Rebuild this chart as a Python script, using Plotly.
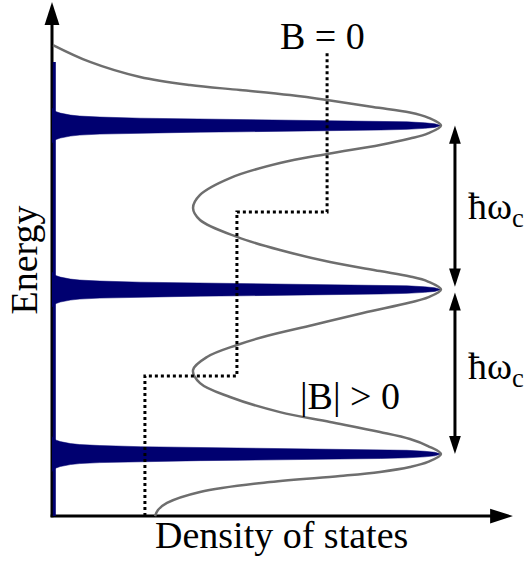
import plotly.graph_objects as go

# ---- data (energy in units of ħω_c, DOS in units of the B = 0 step height) ----
level_E = [0.524, 1.527, 2.527]

# sharp (clean) Landau-level peak: half-width in energy vs DOS value
peak_dos = [0.0, 0.03, 0.09, 0.2, 0.3, 0.52, 0.96, 1.61, 2.04, 2.7, 3.13, 3.57, 3.86, 4.05, 4.16, 4.23]
peak_halfwidth = [0.107, 0.088, 0.076, 0.064, 0.058, 0.052, 0.045, 0.040, 0.038, 0.034,
                  0.031, 0.027, 0.023, 0.017, 0.011, 0.0]

# overlapping tails of the sharp peaks along the energy axis
tail_dos = [0.025, 0.025]
tail_E = [2.915, 0.146]

# broadened DOS (|B| > 0)
broad_dos = [0.011, 0.413, 0.957, 1.500, 2.043, 2.587, 2.989, 3.489, 3.891, 4.087, 4.228,
             4.087, 3.891, 3.565, 2.989, 2.478, 1.935, 1.609, 1.533,
             1.609, 2.011, 2.478, 3.022, 3.565, 3.891, 4.087, 4.228,
             4.087, 3.891, 3.380, 2.837, 2.293, 2.011, 1.685, 1.533,
             1.609, 1.935, 2.478, 3.022, 3.565, 3.891, 4.087, 4.228,
             4.087, 3.891, 3.565, 3.130, 2.370, 1.609, 1.250, 1.152, 1.120]
broad_E = [3.018, 2.915, 2.823, 2.774, 2.744, 2.713, 2.683, 2.640, 2.607, 2.576, 2.527,
           2.479, 2.448, 2.409, 2.354, 2.299, 2.207, 2.104, 2.024,
           1.951, 1.848, 1.768, 1.695, 1.640, 1.607, 1.576, 1.527,
           1.479, 1.448, 1.384, 1.311, 1.238, 1.189, 1.116, 1.037,
           0.957, 0.872, 0.780, 0.720, 0.659, 0.616, 0.573, 0.524,
           0.476, 0.445, 0.415, 0.390, 0.354, 0.293, 0.226, 0.183, 0.146]

# B = 0 step-like DOS
step_dos = [1.01, 1.01, 2.01, 2.01, 2.99, 2.99]
step_E = [0.146, 1.0, 1.0, 2.0, 2.0, 2.976]

# ---- styling constants ----
NAVY = "#000070"
GREY = "#6e6e6e"
FONT = "Liberation Serif, Times New Roman, serif"
X0, E_BOTTOM = 0.0, 0.146
X_TIP, E_TIP = 5.01, 3.28
ARROW_X = 4.38
GAP = 0.018

fig = go.Figure()

# axes (lines + arrowheads)
fig.add_trace(go.Scatter(x=[X0, X0], y=[E_BOTTOM - 0.008, E_TIP - 0.07], mode="lines",
                         line=dict(color="black", width=3), hoverinfo="skip"))
fig.add_trace(go.Scatter(x=[X0 - 0.015, X_TIP - 0.12], y=[E_BOTTOM, E_BOTTOM], mode="lines",
                         line=dict(color="black", width=3), hoverinfo="skip"))
fig.add_trace(go.Scatter(x=[X0, X_TIP], y=[E_TIP, E_BOTTOM], mode="markers",
                         marker=dict(symbol="arrow", size=24, angle=[0, 90], color="black",
                                     line=dict(width=0)), hoverinfo="skip"))

# sharp peaks
fig.add_trace(go.Scatter(x=tail_dos, y=tail_E, mode="lines",
                         line=dict(color=NAVY, width=3), hoverinfo="skip"))
for e0 in level_E:
    xs = peak_dos + peak_dos[::-1]
    ys = [e0 + h for h in peak_halfwidth] + [e0 - h for h in peak_halfwidth[::-1]]
    fig.add_trace(go.Scatter(x=xs, y=ys, mode="lines", fill="toself", fillcolor=NAVY,
                             line=dict(color=NAVY, width=0.5), hoverinfo="skip"))

# broadened DOS
fig.add_trace(go.Scatter(x=broad_dos, y=broad_E, mode="lines",
                         line=dict(color=GREY, width=2.5, shape="spline", smoothing=1.0),
                         hoverinfo="skip"))

# B = 0 steps
fig.add_trace(go.Scatter(x=step_dos, y=step_E, mode="lines",
                         line=dict(color="black", width=3, dash="3px,3px"), hoverinfo="skip"))

# ħω_c double arrows
spans = [(level_E[2], level_E[1] + GAP), (level_E[1] - GAP, level_E[0])]
for top, bot in spans:
    fig.add_trace(go.Scatter(x=[ARROW_X, ARROW_X], y=[top - 0.06, bot + 0.06], mode="lines",
                             line=dict(color="black", width=3), hoverinfo="skip"))
    fig.add_trace(go.Scatter(x=[ARROW_X, ARROW_X], y=[top, bot], mode="markers",
                             marker=dict(symbol="arrow", size=19, angle=[0, 180], color="black",
                                         line=dict(width=0)), hoverinfo="skip"))

ann = dict(showarrow=False, xanchor="center", yanchor="middle",
           font=dict(family=FONT, size=38, color="black"))
annotations = [
    dict(text="B = 0", x=2.935, y=3.075, **ann),
    dict(text="Density of states", x=2.495, y=0.030, **ann),
    dict(text="|B| > 0", x=3.239, y=0.878, **ann),
    dict(text="Energy", x=-0.30, y=1.707, textangle=-90, **ann),
    dict(text="ħω<sub>c</sub>", x=4.83, y=2.018, **ann),
    dict(text="ħω<sub>c</sub>", x=4.83, y=1.043, **ann),
]

fig.update_layout(
    width=525, height=563, margin=dict(l=0, r=0, t=0, b=0),
    paper_bgcolor="white", plot_bgcolor="white", showlegend=False,
    xaxis=dict(range=[-0.5652, 5.1413], visible=False, fixedrange=True),
    yaxis=dict(range=[-0.1402, 3.2927], visible=False, fixedrange=True),
    annotations=annotations,
)

fig.write_html("out.html")
